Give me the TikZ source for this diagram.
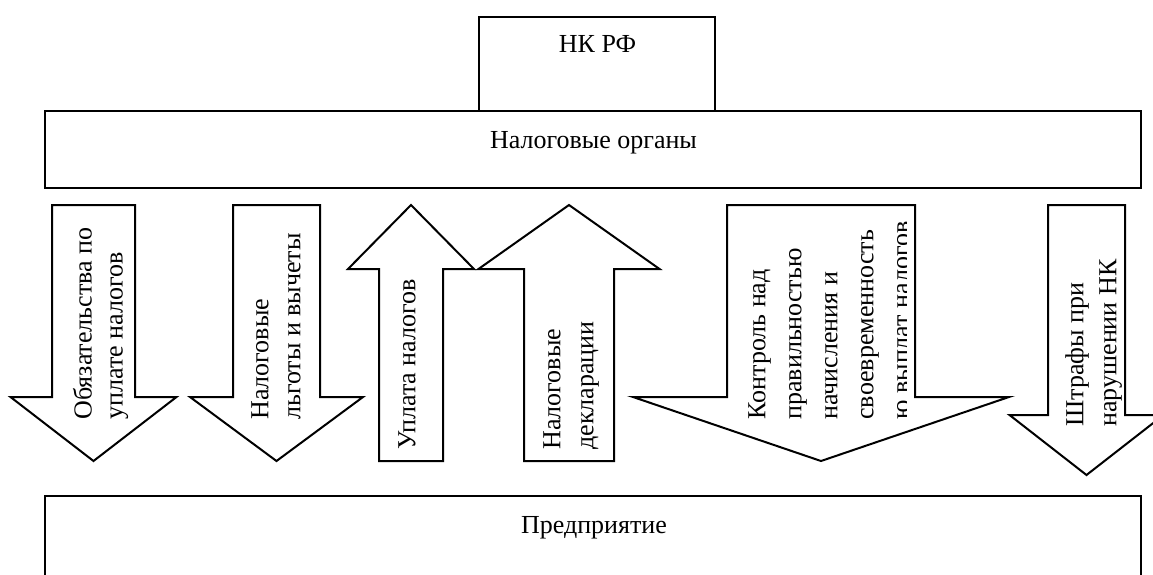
\documentclass[tikz,border=0pt]{standalone}
\usepackage{fontspec}
\setmainfont{Liberation Serif}
\usetikzlibrary{positioning}

\tikzset{
  frame/.style={draw=black, line width=1pt},
  blockarrow/.style={draw=black, fill=white, line width=1pt, line join=miter},
  caption/.style={inner sep=0pt, font=\fontsize{13}{16}\selectfont},
  sidecaption/.style={caption, rotate=90, align=left, anchor=north west},
}

\begin{document}
\begin{tikzpicture}[x=0.5pt, y=-0.5pt]
        \fill[white] (0,0) rectangle (1153,574);
        \useasboundingbox (0,0) rectangle (1153,574);
        % draw boxes
        \draw[frame] (479,16.5) rectangle (715,111);
        \draw[frame] (45,111) rectangle (1141,188);
        \draw[frame] (45,496) rectangle (1141,600);
        \node[caption, anchor=base] (nk) at (597.5,52.5) {НК РФ};
        \node[caption, anchor=base] (organs) at (593.5,148) {Налоговые органы};
        \node[caption, anchor=base] (firm) at (594,533) {Предприятие};

        % draw arrow 1 (down)
        \pgfmathsetmacro{\shaftw}{83}
        \pgfmathsetmacro{\shaftl}{192}
        \pgfmathsetmacro{\headw}{41.5}
        \pgfmathsetmacro{\headl}{64}
        \draw[blockarrow] (52,205) -- ++(\shaftw,0) -- ++(0,\shaftl) -- ++(\headw,0) -- ++(-\headw-\shaftw/2,\headl) -- ++(-\headw-\shaftw/2,-\headl) -- ++(\headw,0) -- cycle;
        \node[sidecaption, font=\fontsize{13}{15.5}\selectfont] (duty) at (72.5,420) {Обязательства по\\уплате налогов};

        % draw arrow 2 (down)
        \pgfmathsetmacro{\shaftw}{87}
        \pgfmathsetmacro{\headw}{43}
        \draw[blockarrow] (233,205) -- ++(\shaftw,0) -- ++(0,\shaftl) -- ++(\headw,0) -- ++(-\headw-\shaftw/2,\headl) -- ++(-\headw-\shaftw/2,-\headl) -- ++(\headw,0) -- cycle;
        \node[sidecaption] (relief) at (251,420) {Налоговые\\льготы и вычеты};

        % draw arrow 3 (up)
        \pgfmathsetmacro{\shaftw}{64}
        \pgfmathsetmacro{\headw}{31}
        \draw[blockarrow] (379,461) -- ++(\shaftw,0) -- ++(0,-\shaftl) -- ++(\headw,0) -- ++(-\headw-\shaftw/2,-\headl) -- ++(-\headw-\shaftw/2,\headl) -- ++(\headw,0) -- cycle;
        \node[sidecaption] (payment) at (398,450) {Уплата налогов};

        % draw arrow 4 (up)
        \pgfmathsetmacro{\shaftw}{90}
        \pgfmathsetmacro{\headw}{45.5}
        \draw[blockarrow] (524,461) -- ++(\shaftw,0) -- ++(0,-\shaftl) -- ++(\headw,0) -- ++(-\headw-\shaftw/2,-\headl) -- ++(-\headw-\shaftw/2,\headl) -- ++(\headw,0) -- cycle;
        \node[sidecaption, font=\fontsize{13}{16.5}\selectfont] (returns) at (543,450) {Налоговые\\декларации};

        % draw arrow 5 (down, wide)
        \pgfmathsetmacro{\shaftw}{188}
        \pgfmathsetmacro{\headw}{94}
        \draw[blockarrow] (727,205) -- ++(\shaftw,0) -- ++(0,\shaftl) -- ++(\headw,0) -- ++(-\headw-\shaftw/2,\headl) -- ++(-\headw-\shaftw/2,-\headl) -- ++(\headw,0) -- cycle;
        \begin{scope}
            \clip (727,205) rectangle (906,461);
            \node[sidecaption, font=\fontsize{13}{18}\selectfont] (control) at (748,420) {Контроль над\\правильностью\\начисления и\\своевременность\\ю выплат налогов};
        \end{scope}

        % draw arrow 6 (down)
        \pgfmathsetmacro{\shaftw}{77}
        \pgfmathsetmacro{\shaftl}{210}
        \pgfmathsetmacro{\headw}{38.5}
        \pgfmathsetmacro{\headl}{60}
        \draw[blockarrow] (1048,205) -- ++(\shaftw,0) -- ++(0,\shaftl) -- ++(\headw,0) -- ++(-\headw-\shaftw/2,\headl) -- ++(-\headw-\shaftw/2,-\headl) -- ++(\headw,0) -- cycle;
        \node[sidecaption, font=\fontsize{13}{16.5}\selectfont] (fines) at (1065,427) {Штрафы при\\нарушении НК};
\end{tikzpicture}
\end{document}
